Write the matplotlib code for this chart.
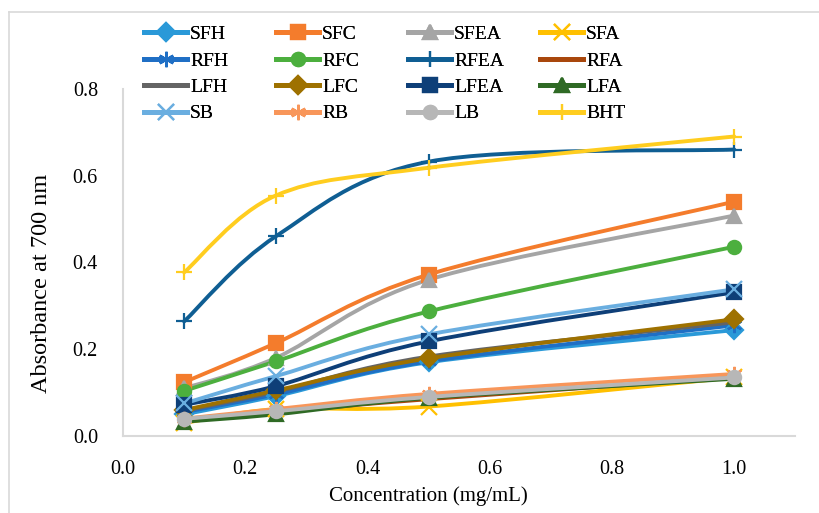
import numpy as np
import matplotlib
matplotlib.use("Agg")
import matplotlib.pyplot as plt
from matplotlib.path import Path
from matplotlib.patches import PathPatch
from matplotlib.lines import Line2D

plt.rcParams['font.family'] = ['Liberation Serif', 'DejaVu Serif']

# concentrations (mg/mL)
conc = [0.1, 0.25, 0.5, 1.0]

# absorbance at 700 nm
SFH = [0.050, 0.092, 0.170, 0.244]
SFC = [0.124, 0.214, 0.372, 0.540]
SFEA = [0.110, 0.180, 0.360, 0.508]
SFA = [0.030, 0.062, 0.068, 0.135]
RFH = [0.055, 0.096, 0.172, 0.255]
RFC = [0.104, 0.172, 0.287, 0.436]
RFEA = [0.264, 0.460, 0.632, 0.660]
RFA = [0.035, 0.055, 0.085, 0.135]
LFH = [0.058, 0.102, 0.183, 0.262]
LFC = [0.060, 0.105, 0.179, 0.269]
LFEA = [0.072, 0.115, 0.218, 0.331]
LFA = [0.033, 0.050, 0.088, 0.132]
SB = [0.075, 0.138, 0.234, 0.338]
RB = [0.040, 0.062, 0.097, 0.143]
LB = [0.040, 0.057, 0.090, 0.135]
BHT = [0.377, 0.554, 0.618, 0.690]

names = ["SFH", "SFC", "SFEA", "SFA", "RFH", "RFC", "RFEA", "RFA",
         "LFH", "LFC", "LFEA", "LFA", "SB", "RB", "LB", "BHT"]
values = [SFH, SFC, SFEA, SFA, RFH, RFC, RFEA, RFA,
          LFH, LFC, LFEA, LFA, SB, RB, LB, BHT]
colors = ["#2a99d8", "#f47c2c", "#a5a5a5", "#ffc000",
          "#1f6fc5", "#4caf3e", "#0f5e93", "#a9470c",
          "#646464", "#9e7100", "#0e3f78", "#2f6a25",
          "#6aaee0", "#f8965a", "#b7b7b7", "#ffcd1f"]
star = (6, 2, 0)
markers = ["D", "s", "^", "x", star, "o", "+", None,
           None, "D", "s", "^", "x", star, "o", "+"]


def smooth_path(xs, ys):
    # Catmull-Rom style bezier through the points (like Excel smoothed lines)
    pts = np.column_stack([xs, ys])
    n = len(pts)
    verts = [pts[0]]
    codes = [Path.MOVETO]
    for i in range(n - 1):
        p0 = pts[max(i - 1, 0)]
        p1 = pts[i]
        p2 = pts[i + 1]
        p3 = pts[min(i + 2, n - 1)]
        c1 = p1 + (p2 - p0) / 6.0
        c2 = p2 - (p3 - p1) / 6.0
        verts += [c1, c2, p2]
        codes += [Path.CURVE4] * 3
    return Path(verts, codes)


fig = plt.figure(figsize=(8.2, 5.13), dpi=100)
ax = fig.add_axes([0.150, 0.150, 0.820, 0.677])

handles = []
for name, vals, col, mk in zip(names, values, colors, markers):
    patch = PathPatch(smooth_path(conc, vals), facecolor="none",
                      edgecolor=col, lw=2.8, capstyle="round", zorder=2)
    ax.add_patch(patch)
    ms = 9.5 if mk in ("D", "s", "^", "o") else 11
    ax.plot(conc, vals, linestyle="none", marker=mk, color=col,
            markersize=ms, markeredgewidth=1.6, zorder=3)
    handles.append(Line2D([], [], color=col, lw=3.5, marker=mk,
                          markersize=ms, markeredgewidth=1.6))

ax.set_xlim(0, 1.1)
ax.set_ylim(0, 0.8)
ax.set_xticks([0.0, 0.2, 0.4, 0.6, 0.8, 1.0])
ax.set_yticks([0.0, 0.2, 0.4, 0.6, 0.8])
ax.xaxis.set_major_formatter(plt.FormatStrFormatter("%.1f"))
ax.yaxis.set_major_formatter(plt.FormatStrFormatter("%.1f"))
ax.tick_params(length=0, labelsize=14.5)
ax.tick_params(axis="x", pad=17)
ax.tick_params(axis="y", pad=18)
for s in ["top", "right"]:
    ax.spines[s].set_visible(False)
for s in ["left", "bottom"]:
    ax.spines[s].set_color("#d9d9d9")
    ax.spines[s].set_linewidth(1.5)
ax.set_xlabel("Concentration (mg/mL)", fontsize=15)
ax.set_ylabel("Absorbance at 700 nm", fontsize=17.5)
ax.xaxis.set_label_coords(0.4545, -0.145)
ax.yaxis.set_label_coords(-0.106, 0.44)

# legend: four columns of equal width, entries ordered by row
col_x = [0.176, 0.337, 0.498, 0.659]
for c in range(4):
    idx = [c + 4 * r for r in range(4)]
    leg = fig.legend([handles[i] for i in idx], [names[i] for i in idx],
                     loc="upper left", bbox_to_anchor=(col_x[c], 0.950),
                     frameon=False, fontsize=14, handlelength=2.2,
                     handletextpad=0.15, labelspacing=0.45,
                     borderaxespad=0, borderpad=0)
    fig.add_artist(leg)

# chart border
fig.add_artist(Line2D([0.011, 0.011], [0.0, 0.977], color="#d9d9d9", lw=1.2,
                      transform=fig.transFigure))
fig.add_artist(Line2D([0.011, 1.0], [0.977, 0.977], color="#d9d9d9", lw=1.2,
                      transform=fig.transFigure))

fig.savefig("out.png", dpi=100)
